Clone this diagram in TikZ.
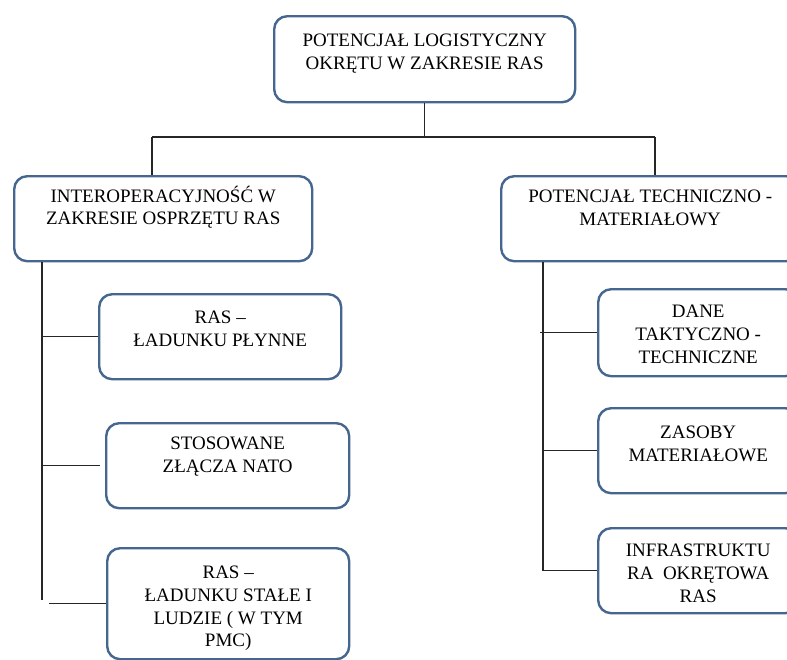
\documentclass[tikz,border=0pt]{standalone}
\usepackage{fontspec}
\setmainfont{Liberation Serif}
\usetikzlibrary{positioning}
\definecolor{boxblue}{RGB}{69,102,143}

\tikzset{
	box/.style={draw=boxblue,line width=2.4pt,rounded corners=13pt,fill=white,anchor=north west,inner sep=0pt},
	txt/.style={align=center,anchor=north,inner sep=0pt,font=\fontsize{19}{22.8}\selectfont},
	wire/.style={line width=1.3pt,black!85}
}

\begin{document}
\begin{tikzpicture}[x=1pt,y=-1pt]
	\useasboundingbox (0,0) rectangle (787,659);
	\clip (0,0) rectangle (787,659);
	% boxes
	\node[box,minimum width=301pt,minimum height=86pt] (P) at (273,15) {};
	\node[box,minimum width=298pt,minimum height=85pt] (I) at (13,175) {};
	\node[box,minimum width=298pt,minimum height=85pt] (T) at (500,175) {};
	\node[box,minimum width=242pt,minimum height=85pt] (I1) at (98,293) {};
	\node[box,minimum width=243pt,minimum height=85pt] (I2) at (105,422) {};
	\node[box,minimum width=242pt,minimum height=111pt] (I3) at (106,547) {};
	\node[box,minimum width=200pt,minimum height=87pt] (T1) at (597,288) {};
	\node[box,minimum width=200pt,minimum height=85pt] (T2) at (597,407) {};
	\node[box,minimum width=200pt,minimum height=85pt] (T3) at (597,527) {};
	% texts
	\node[txt] (Pt) at ([yshift=-19pt]P.north) {POTENCJAŁ LOGISTYCZNY\\OKRĘTU W ZAKRESIE RAS};
	\node[txt] (It) at ([yshift=-10.5pt]I.north) {INTEROPERACYJNOŚĆ W\\ZAKRESIE OSPRZĘTU RAS};
	\node[txt] (Tt) at ([yshift=-14.7pt]T.north) {POTENCJAŁ TECHNICZNO -\\MATERIAŁOWY};
	\node[txt] (I1t) at ([yshift=-17.7pt]I1.north) {RAS --\\ŁADUNKU PŁYNNE};
	\node[txt] (I2t) at ([yshift=-14.7pt]I2.north) {STOSOWANE\\ZŁĄCZA NATO};
	\node[txt] (I3t) at ([yshift=-18.7pt]I3.north) {RAS --\\ŁADUNKU STAŁE I\\LUDZIE ( W TYM\\PMC)};
	\node[txt] (T1t) at ([yshift=-16.7pt]T1.north) {DANE\\TAKTYCZNO -\\TECHNICZNE};
	\node[txt] (T2t) at ([yshift=-18.7pt]T2.north) {ZASOBY\\MATERIAŁOWE};
	\node[txt] (T3t) at ([yshift=-16.7pt]T3.north) {INFRASTRUKTU\\RA~~OKRĘTOWA\\RAS};
	% connectors
	\coordinate (jI) at (152,137);
	\coordinate (jT) at (655,137);
	\coordinate (sI) at (42,600);
	\coordinate (sT) at (543,0);
	\draw[wire] (P.south) -- (P.south |- jI);
	\draw[wire] (jI) -- (jT);
	\draw[wire] (jI) -- (jI |- I.north);
	\draw[wire] (jT) -- (jT |- T.north);
	\draw[wire] (sI |- I.south) -- (sI);
	\draw[wire] (sI |- I1.west) -- (I1.west);
	\draw[wire] (sI |- I2.west) -- ([xshift=-5pt]I2.west);
	\draw[wire] ([xshift=7pt]sI |- I3.west) -- (I3.west);
	\draw[wire] (sT |- T.south) -- (sT |- T3.west);
	\draw[wire] ([xshift=-3pt]sT |- T1.west) -- (T1.west);
	\draw[wire] (sT |- T2.west) -- (T2.west);
	\draw[wire] (sT |- T3.west) -- (T3.west);
\end{tikzpicture}
\end{document}
